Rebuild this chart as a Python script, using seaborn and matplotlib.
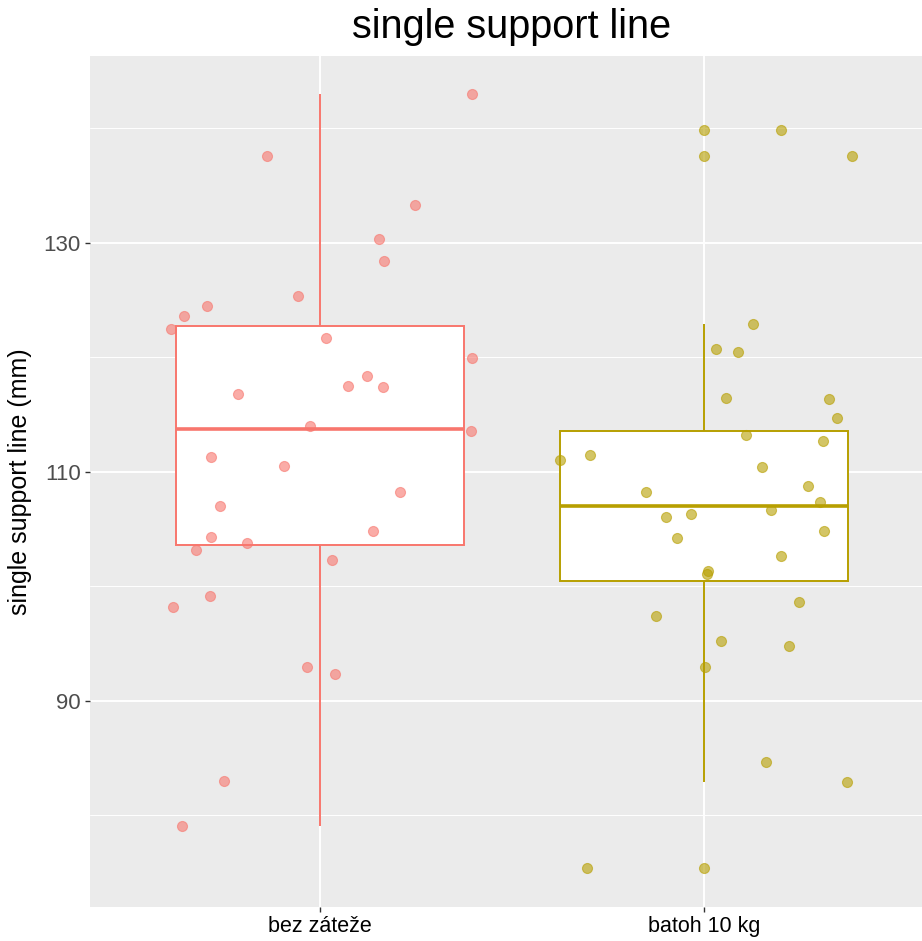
import numpy as np
import pandas as pd
import seaborn as sns
import matplotlib.pyplot as plt
from matplotlib.ticker import FixedLocator, MultipleLocator

# categories and colours (ggplot hue palette)
groups = ["bez záteže", "batoh 10 kg"]
colors = ["#F8766D", "#B79F00"]

# single support line (mm)
bez_zateze = [142.96, 137.57, 133.32, 130.35, 128.43, 125.34, 124.50, 123.60, 122.49, 121.68,
              119.93, 118.36, 117.51, 117.42, 116.81, 113.99, 113.53, 111.31, 110.52, 108.20,
              107.00, 104.32, 104.85, 103.75, 103.16, 102.26, 99.12, 98.18, 92.97, 92.33,
              82.96, 79.03]
batoh_10kg = [139.87, 137.57, 122.90, 120.69, 120.43, 116.41, 116.32, 114.72, 113.18, 112.68,
              111.48, 111.00, 110.38, 108.75, 108.23, 107.38, 106.63, 106.33, 106.04, 104.79,
              104.21, 102.64, 101.35, 101.04, 98.65, 97.42, 95.24, 94.80, 92.97, 84.67,
              82.87, 75.36]

# horizontal jitter of each point (category units), as seen in the chart
bez_zateze_jitter = [0.397, -0.138, 0.247, 0.154, 0.167, -0.059, -0.296, -0.354, -0.388, 0.016,
                     0.397, 0.122, 0.073, 0.164, -0.215, -0.026, 0.393, -0.285, -0.095, 0.209,
                     -0.261, -0.284, 0.137, -0.192, -0.324, 0.031, -0.287, -0.384, -0.034, 0.039,
                     -0.252, -0.359]
batoh_10kg_jitter = [0.202, 0.386, 0.129, 0.032, 0.090, 0.057, 0.327, 0.346, 0.111, 0.311,
                     -0.297, -0.376, 0.151, 0.272, -0.152, 0.304, 0.175, -0.033, -0.098, 0.313,
                     -0.070, 0.202, 0.012, 0.008, 0.248, -0.125, 0.046, 0.221, 0.003, 0.162,
                     0.372, -0.304]

y_ticks = [90, 110, 130]

df = pd.DataFrame({
    "group": [groups[0]] * len(bez_zateze) + [groups[1]] * len(batoh_10kg),
    "value": bez_zateze + batoh_10kg,
    "jitter": bez_zateze_jitter + batoh_10kg_jitter,
})
df["pos"] = df["group"].map({g: i for i, g in enumerate(groups)}) + df["jitter"]

sns.set_style("darkgrid", {"axes.facecolor": "#EBEBEB", "grid.color": "white"})
plt.rcParams["font.family"] = ["Liberation Sans", "DejaVu Sans"]

fig = plt.figure(figsize=(9.22, 9.41), dpi=100)
ax = fig.add_axes([90 / 922, 1 - 907 / 941, 844 / 922, (907 - 55.7) / 941])

for i, g in enumerate(groups):
    sns.boxplot(data=df[df["group"] == g], x="group", y="value", order=groups,
                color="white", saturation=1, linecolor=colors[i], linewidth=1.4,
                width=0.75, whis=1.5, fliersize=7.2,
                medianprops={"linewidth": 2.6},
                capprops={"linewidth": 0},
                flierprops={"marker": "o", "markerfacecolor": colors[i],
                            "markeredgecolor": colors[i], "alpha": 0.6,
                            "markeredgewidth": 0.8},
                ax=ax)

for i, g in enumerate(groups):
    sub = df[df["group"] == g]
    sns.scatterplot(x=sub["pos"].to_numpy(), y=sub["value"].to_numpy(), color=colors[i],
                    edgecolor=colors[i], linewidth=0.8, s=52, alpha=0.6, zorder=3,
                    legend=False, ax=ax)

# ggplot style 5% expansion
vals = np.array(bez_zateze + batoh_10kg)
span = vals.max() - vals.min()
ax.set_ylim(vals.min() - 0.05 * span, vals.max() + 0.05 * span)
ax.set_xlim(-0.6, len(groups) - 0.4)

ax.set_xticks(range(len(groups)))
ax.set_xticklabels(groups)
ax.yaxis.set_major_locator(FixedLocator(y_ticks))
ax.yaxis.set_minor_locator(MultipleLocator(10))

ax.set_axisbelow(True)
ax.grid(True, which="major", color="white", linewidth=1.4)
ax.grid(True, which="minor", axis="y", color="white", linewidth=0.7)
for s in ax.spines.values():
    s.set_visible(False)

ax.tick_params(which="major", bottom=True, left=True, length=3.6, width=1, color="#333333")
ax.tick_params(which="minor", bottom=False, left=False, length=0)
ax.tick_params(axis="y", labelsize=16, labelcolor="#4D4D4D", pad=3)
ax.tick_params(axis="x", labelsize=15.5, labelcolor="black", pad=3)

ax.set_xlabel("")
ax.set_ylabel("single support line (mm)", fontsize=18, labelpad=8, color="black")
ax.set_title("single support line", fontsize=28.5, pad=12.5, color="black")

fig.savefig("out.png", dpi=100)
